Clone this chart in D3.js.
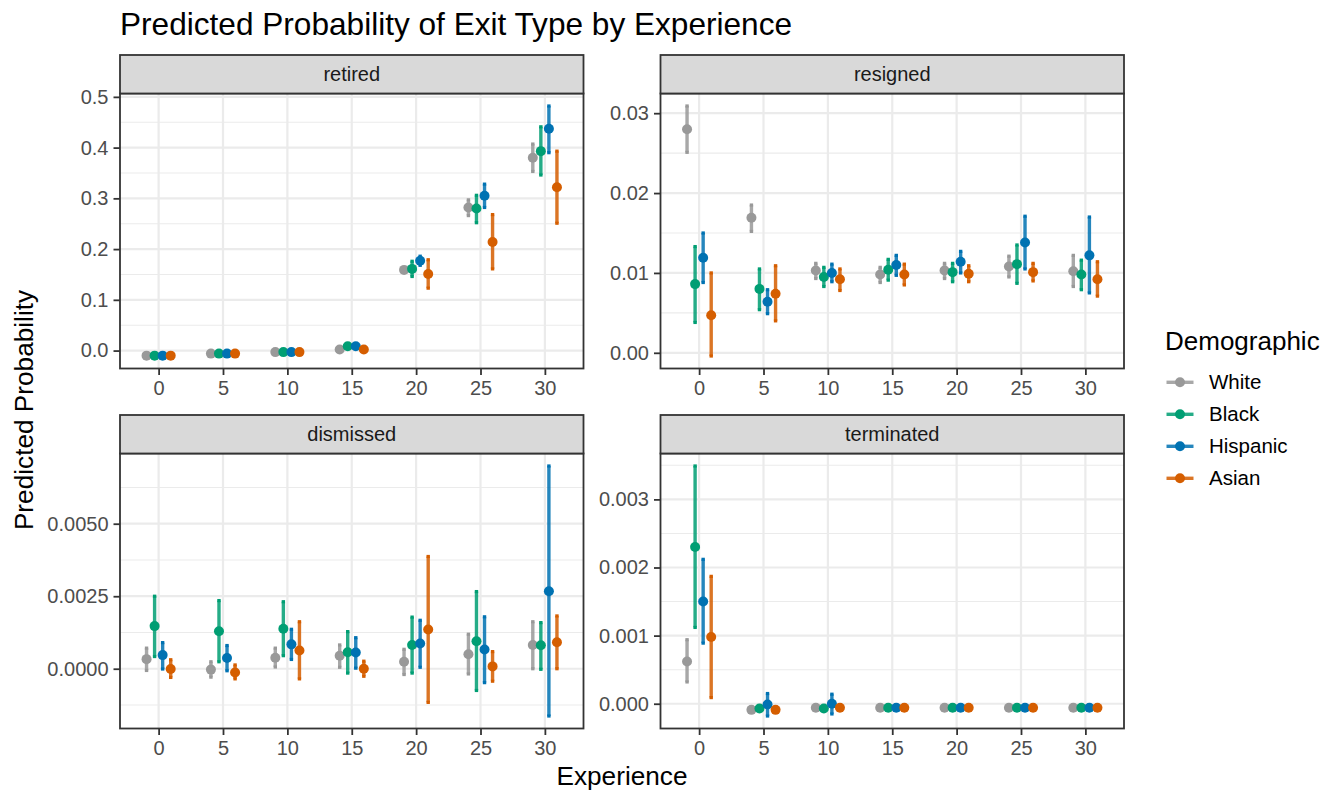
<!DOCTYPE html>
<html>
<head>
<meta charset="utf-8">
<script src="https://cdn.jsdelivr.net/npm/d3@7"></script>
<style>
  body { margin: 0; background: #fff; }
  text { font-family: "Liberation Sans", Arial, Helvetica, sans-serif; }
</style>
</head>
<body>
<div id="graphique"></div>
<script>
// Données
const typesSortie = ["retired", "resigned", "dismissed", "terminated"];
const experience = ["0", "5", "10", "15", "20", "25", "30"];
const groupes = ["White", "Black", "Hispanic", "Asian"];
const couleurs = ["#999999", "#009E73", "#0072B2", "#D55E00"];

// retired : une ligne par groupe (White, Black, Hispanic, Asian)
const retiredFit = [
  [-0.0100, -0.0060, -0.0030, 0.0020, 0.159, 0.282, 0.380],
  [-0.0100, -0.0060, -0.0030, 0.0085, 0.161, 0.280, 0.393],
  [-0.0100, -0.0060, -0.0030, 0.0085, 0.177, 0.305, 0.437],
  [-0.0100, -0.0060, -0.0030, 0.0020, 0.151, 0.214, 0.322]
];
const retiredLow = [
  [-0.0107, -0.0068, -0.0038, 0.0012, 0.155, 0.266, 0.353],
  [-0.0107, -0.0070, -0.0040, 0.0060, 0.146, 0.252, 0.346],
  [-0.0107, -0.0070, -0.0040, 0.0060, 0.168, 0.282, 0.390],
  [-0.0107, -0.0070, -0.0040, 0.0000, 0.123, 0.161, 0.251]
];
const retiredHigh = [
  [-0.0093, -0.0052, -0.0022, 0.0028, 0.163, 0.297, 0.407],
  [-0.0093, -0.0050, -0.0020, 0.0110, 0.176, 0.306, 0.441],
  [-0.0093, -0.0050, -0.0020, 0.0110, 0.186, 0.328, 0.482],
  [-0.0093, -0.0050, -0.0020, 0.0040, 0.179, 0.268, 0.393]
];

// resigned
const resignedFit = [
  [0.0280, 0.0169, 0.0103, 0.0098, 0.0103, 0.0108, 0.0102],
  [0.0086, 0.0080, 0.0095, 0.0104, 0.0101, 0.0111, 0.0098],
  [0.0119, 0.0064, 0.0100, 0.0110, 0.0114, 0.0138, 0.0122],
  [0.0047, 0.0074, 0.0092, 0.0098, 0.0099, 0.0101, 0.0092]
];
const resignedLow = [
  [0.0251, 0.0152, 0.0093, 0.0088, 0.0093, 0.0095, 0.0083],
  [0.0038, 0.0054, 0.0083, 0.0091, 0.0089, 0.0087, 0.0079],
  [0.0088, 0.0049, 0.0089, 0.0097, 0.0100, 0.0105, 0.0075],
  [-0.0004, 0.0040, 0.0078, 0.0085, 0.0089, 0.0090, 0.0071]
];
const resignedHigh = [
  [0.0309, 0.0185, 0.0112, 0.0107, 0.0112, 0.0121, 0.0122],
  [0.0133, 0.0105, 0.0107, 0.0117, 0.0112, 0.0135, 0.0116],
  [0.0150, 0.0079, 0.0111, 0.0122, 0.0127, 0.0171, 0.0170],
  [0.0100, 0.0109, 0.0105, 0.0111, 0.0109, 0.0112, 0.0114]
];

// dismissed
const dismissedFit = [
  [0.00033, -0.00003, 0.00038, 0.00045, 0.00024, 0.00050, 0.00082],
  [0.00147, 0.00129, 0.00138, 0.00057, 0.00082, 0.00095, 0.00081],
  [0.00047, 0.00037, 0.00084, 0.00056, 0.00087, 0.00066, 0.00267],
  [-0.00001, -0.00013, 0.00063, 0.00000, 0.00135, 0.00008, 0.00091]
];
const dismissedLow = [
  [-0.00006, -0.00029, 0.00006, 0.00005, -0.00020, -0.00018, 0.00000],
  [0.00042, 0.00024, 0.00045, -0.00015, -0.00015, -0.00075, -0.00002],
  [-0.00001, -0.00007, 0.00032, 0.00002, 0.00005, -0.00048, -0.00163],
  [-0.00030, -0.00035, -0.00035, -0.00026, -0.00116, -0.00043, 0.00000]
];
const dismissedHigh = [
  [0.00071, 0.00024, 0.00071, 0.00082, 0.00067, 0.00119, 0.00162],
  [0.00250, 0.00235, 0.00231, 0.00128, 0.00178, 0.00266, 0.00159],
  [0.00090, 0.00080, 0.00136, 0.00107, 0.00167, 0.00179, 0.00699],
  [0.00031, 0.00013, 0.00162, 0.00026, 0.00387, 0.00059, 0.00182]
];

// terminated
const terminatedFit = [
  [0.00062, -0.00009, -0.00006, -0.00006, -0.00006, -0.00006, -0.00006],
  [0.00230, -0.00007, -0.00007, -0.00006, -0.00006, -0.00006, -0.00006],
  [0.00150, -0.00001, 0.00000, -0.00006, -0.00006, -0.00006, -0.00006],
  [0.00098, -0.00009, -0.00006, -0.00006, -0.00006, -0.00006, -0.00006]
];
const terminatedLow = [
  [0.00032, -0.00012, -0.00008, -0.00008, -0.00008, -0.00008, -0.00008],
  [0.00112, -0.00010, -0.00009, -0.00008, -0.00008, -0.00008, -0.00008],
  [0.00089, -0.00018, -0.00015, -0.00008, -0.00008, -0.00008, -0.00008],
  [0.00009, -0.00012, -0.00008, -0.00008, -0.00008, -0.00008, -0.00008]
];
const terminatedHigh = [
  [0.00094, -0.00006, -0.00004, -0.00004, -0.00004, -0.00004, -0.00004],
  [0.00349, -0.00004, -0.00005, -0.00004, -0.00004, -0.00004, -0.00004],
  [0.00212, 0.00015, 0.00014, -0.00004, -0.00004, -0.00004, -0.00004],
  [0.00187, -0.00006, -0.00004, -0.00004, -0.00004, -0.00004, -0.00004]
];

// Graduations de l'axe y de chaque panneau
const retiredTicks = [0, 0.1, 0.2, 0.3, 0.4, 0.5];
const retiredLabels = ["0.0", "0.1", "0.2", "0.3", "0.4", "0.5"];
const resignedTicks = [0, 0.01, 0.02, 0.03];
const resignedLabels = ["0.00", "0.01", "0.02", "0.03"];
const dismissedTicks = [0, 0.0025, 0.005];
const dismissedLabels = ["0.0000", "0.0025", "0.0050"];
const terminatedTicks = [0, 0.001, 0.002, 0.003];
const terminatedLabels = ["0.000", "0.001", "0.002", "0.003"];

const panneaux = [
  {nom: typesSortie[0], fit: retiredFit, low: retiredLow, high: retiredHigh, ticks: retiredTicks, labels: retiredLabels},
  {nom: typesSortie[1], fit: resignedFit, low: resignedLow, high: resignedHigh, ticks: resignedTicks, labels: resignedLabels},
  {nom: typesSortie[2], fit: dismissedFit, low: dismissedLow, high: dismissedHigh, ticks: dismissedTicks, labels: dismissedLabels},
  {nom: typesSortie[3], fit: terminatedFit, low: terminatedLow, high: terminatedHigh, ticks: terminatedTicks, labels: terminatedLabels}
];

// Dimensions
const largeur = 1340;
const hauteur = 796;
const panneauL = 463.5;
const panneauH = 275;
const bandeH = 38.5;
const posX = [120, 660.5];
const posY = [93.5, 453.5];
const decalages = [-0.1875, -0.0625, 0.0625, 0.1875]; // position_dodge(0.5)

const svg = d3.select("#graphique")
  .append("svg")
  .attr("width", largeur)
  .attr("height", hauteur);

svg.append("rect").attr("width", largeur).attr("height", hauteur).attr("fill", "#fff");

const x = d3.scalePoint()
  .domain(experience)
  .range([0, panneauL])
  .padding(0.6);

panneaux.forEach((p, i) => {
  const g = svg.append("g")
    .attr("transform", `translate(${posX[i % 2]},${posY[Math.floor(i / 2)]})`);

  // Échelle y avec expansion de 5 %
  const mini = d3.min(p.low.flat());
  const maxi = d3.max(p.high.flat());
  const ecart = maxi - mini;
  const y = d3.scaleLinear()
    .domain([mini - 0.05 * ecart, maxi + 0.05 * ecart])
    .range([panneauH, 0]);

  g.append("rect")
    .attr("width", panneauL)
    .attr("height", panneauH)
    .attr("fill", "#fff");

  // Grille mineure (y)
  const pas = p.ticks[1] - p.ticks[0];
  const mineurs = [p.ticks[0] - pas / 2].concat(p.ticks.map(t => t + pas / 2))
    .filter(v => v > y.domain()[0] && v < y.domain()[1]);
  g.append("g")
    .selectAll("line")
    .data(mineurs)
    .enter()
    .append("line")
    .attr("x1", 0).attr("x2", panneauL)
    .attr("y1", d => y(d)).attr("y2", d => y(d))
    .attr("stroke", "#EBEBEB")
    .attr("stroke-width", 1.1);

  // Grille majeure
  g.append("g")
    .selectAll("line")
    .data(p.ticks)
    .enter()
    .append("line")
    .attr("x1", 0).attr("x2", panneauL)
    .attr("y1", d => y(d)).attr("y2", d => y(d))
    .attr("stroke", "#EBEBEB")
    .attr("stroke-width", 2.2);
  g.append("g")
    .selectAll("line")
    .data(experience)
    .enter()
    .append("line")
    .attr("x1", d => x(d)).attr("x2", d => x(d))
    .attr("y1", 0).attr("y2", panneauH)
    .attr("stroke", "#EBEBEB")
    .attr("stroke-width", 2.2);

  // Barres d'erreur puis points
  const couche = g.append("g");
  const points = g.append("g");
  groupes.forEach((grp, k) => {
    const lignes = experience.map((e, j) => ({
      xe: e, fit: p.fit[k][j], low: p.low[k][j], high: p.high[k][j]
    }));
    const dx = decalages[k] * x.step();

    couche.selectAll(null)
      .data(lignes)
      .enter()
      .append("line")
      .attr("x1", d => x(d.xe) + dx).attr("x2", d => x(d.xe) + dx)
      .attr("y1", d => y(d.low)).attr("y2", d => y(d.high))
      .attr("stroke", couleurs[k])
      .attr("stroke-width", 3.4)
      .attr("opacity", 0.85);

    // Extrémités plus foncées
    [d => d.low, d => d.high].forEach(acc => {
      couche.selectAll(null)
        .data(lignes)
        .enter()
        .append("rect")
        .attr("x", d => x(d.xe) + dx - 1.7)
        .attr("y", d => y(acc(d)) - 1.6)
        .attr("width", 3.4)
        .attr("height", 3.2)
        .attr("fill", couleurs[k]);
    });

    points.selectAll(null)
      .data(lignes)
      .enter()
      .append("circle")
      .attr("cx", d => x(d.xe) + dx)
      .attr("cy", d => y(d.fit))
      .attr("r", 5)
      .attr("fill", couleurs[k]);
  });

  // Bordure du panneau
  g.append("rect")
    .attr("width", panneauL)
    .attr("height", panneauH)
    .attr("fill", "none")
    .attr("stroke", "#333333")
    .attr("stroke-width", 1.8);

  // Bandeau
  g.append("rect")
    .attr("y", -bandeH)
    .attr("width", panneauL)
    .attr("height", bandeH)
    .attr("fill", "#D9D9D9")
    .attr("stroke", "#333333")
    .attr("stroke-width", 1.8);
  g.append("text")
    .attr("x", panneauL / 2)
    .attr("y", -bandeH / 2 + 7)
    .attr("text-anchor", "middle")
    .attr("font-size", 20)
    .attr("fill", "#1A1A1A")
    .text(p.nom);

  // Axes
  const axeY = g.append("g")
    .call(d3.axisLeft(y)
      .tickValues(p.ticks)
      .tickFormat((d, j) => p.labels[j])
      .tickSize(6.5)
      .tickPadding(5));
  const axeX = g.append("g")
    .attr("transform", `translate(0,${panneauH})`)
    .call(d3.axisBottom(x).tickSize(6.5).tickPadding(5.3));
  [axeY, axeX].forEach(a => {
    a.select(".domain").remove();
    a.selectAll(".tick line").attr("stroke", "#333333").attr("stroke-width", 1.8);
    a.selectAll(".tick text")
      .attr("fill", "#4D4D4D")
      .attr("font-size", 20)
      .attr("font-family", "Liberation Sans, Arial, sans-serif");
  });
});

// Titres
svg.append("text")
  .attr("x", 120)
  .attr("y", 35)
  .attr("font-size", 31.6)
  .attr("fill", "#000")
  .text("Predicted Probability of Exit Type by Experience");

svg.append("text")
  .attr("x", 622)
  .attr("y", 785)
  .attr("text-anchor", "middle")
  .attr("font-size", 26.2)
  .attr("fill", "#000")
  .text("Experience");

svg.append("text")
  .attr("transform", "translate(33,410) rotate(-90)")
  .attr("text-anchor", "middle")
  .attr("font-size", 26.2)
  .attr("fill", "#000")
  .text("Predicted Probability");

// Légende
const legende = svg.append("g").attr("transform", "translate(1165,0)");
legende.append("text")
  .attr("x", 0)
  .attr("y", 350)
  .attr("font-size", 26)
  .attr("fill", "#000")
  .text("Demographic");

const lignesLegende = legende.selectAll("g.cle")
  .data(groupes)
  .enter()
  .append("g")
  .attr("class", "cle")
  .attr("transform", (d, i) => `translate(0,${382.3 + i * 32})`);
lignesLegende.append("line")
  .attr("x1", 1.5).attr("x2", 28.5)
  .attr("stroke", (d, i) => couleurs[i])
  .attr("stroke-width", 3.4)
  .attr("opacity", 0.85);
lignesLegende.append("circle")
  .attr("cx", 15)
  .attr("r", 5)
  .attr("fill", (d, i) => couleurs[i]);
lignesLegende.append("text")
  .attr("x", 44)
  .attr("y", 7)
  .attr("font-size", 20.5)
  .attr("fill", "#000")
  .text(d => d);
</script>
</body>
</html>
